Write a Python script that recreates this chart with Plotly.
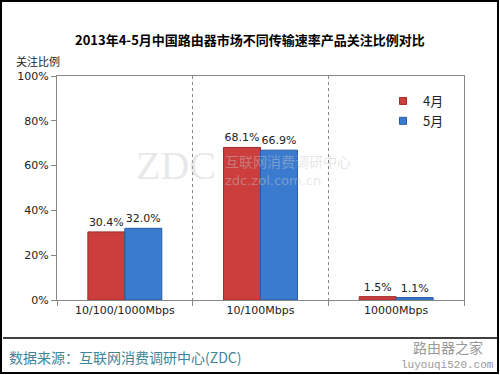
import plotly.graph_objects as go

categories = ["10/100/1000Mbps", "10/100Mbps", "10000Mbps"]
april = [30.4, 68.1, 1.5]
may = [32.0, 66.9, 1.1]
series_names = ["4月", "5月"]
y_ticks = [0, 20, 40, 60, 80, 100]
y_tick_labels = [f"{v}%" for v in y_ticks]

FONT = "DejaVu Sans, Noto Sans CJK SC"
CJK = "Noto Sans CJK SC"

L, R, T, B = 57, 36, 76, 75
W, H = 500, 375
PW, PH = W - L - R, H - T - B

RED, BLUE = "#cc3d3d", "#3b7bcf"

def px(x):
    return (x - L) / PW

def py(y):
    return (H - B - y) / PH

fig = go.Figure()
fig.add_bar(x=categories, y=april, name=series_names[0], showlegend=False,
            marker=dict(color=RED, line=dict(color="#9e2a2a", width=1)),
            text=[f"{v:.1f}%" for v in april], textposition="outside",
            textfont=dict(size=11, color="#222"), cliponaxis=False)
fig.add_bar(x=categories, y=may, name=series_names[1], showlegend=False,
            marker=dict(color=BLUE, line=dict(color="#2a5a9e", width=1)),
            text=[f"{v:.1f}%" for v in may], textposition="outside",
            textfont=dict(size=11, color="#222"), cliponaxis=False)
# legend entries with small square keys
for name, col, edge in [(series_names[0], RED, "#9e2a2a"), (series_names[1], BLUE, "#2a5a9e")]:
    fig.add_scatter(x=[None], y=[None], mode="markers", name=name,
                    marker=dict(symbol="square", size=7, color=col, line=dict(color=edge, width=1)))

ann = []
ann.append(dict(text="<b>2013年4-5月中国路由器市场不同传输速率产品关注比例对比</b>",
                x=px(250), y=py(40), xref="paper", yref="paper", showarrow=False,
                xanchor="center", yanchor="middle", font=dict(size=13, color="#000", family=CJK)))
ann.append(dict(text="关注比例", x=px(14), y=py(61), xref="paper", yref="paper", showarrow=False,
                xanchor="left", yanchor="middle", font=dict(size=11, color="#222", family=CJK)))
ann.append(dict(text="数据来源：互联网消费调研中心(ZDC)", x=px(7), y=py(357), xref="paper", yref="paper",
                showarrow=False, xanchor="left", yanchor="middle",
                font=dict(size=14, color="#3e8597", family=CJK)))
ann.append(dict(text="路由器之家", x=px(448), y=py(347), xref="paper", yref="paper", showarrow=False,
                xanchor="center", yanchor="middle", font=dict(size=14, color="#999", family=CJK)))
ann.append(dict(text="luyouqi520.com", x=px(447), y=py(365), xref="paper", yref="paper", showarrow=False,
                xanchor="center", yanchor="middle", font=dict(size=11, color="#999", family="Liberation Mono")))
ann.append(dict(text="ZDC", x=px(176), y=py(165), xref="paper", yref="paper", showarrow=False,
                xanchor="center", yanchor="middle",
                font=dict(size=40, color="rgba(190,190,190,0.35)", family="Liberation Serif")))
ann.append(dict(text="互联网消费调研中心", x=px(223), y=py(161), xref="paper", yref="paper", showarrow=False,
                xanchor="left", yanchor="middle", font=dict(size=14, color="rgba(200,200,200,0.45)", family=CJK)))
ann.append(dict(text="zdc.zol.com.cn", x=px(223), y=py(180), xref="paper", yref="paper", showarrow=False,
                xanchor="left", yanchor="middle", font=dict(size=13, color="rgba(200,200,200,0.45)", family="DejaVu Sans")))

shapes = [
    dict(type="rect", xref="paper", yref="paper", x0=px(1), x1=px(498), y0=py(373), y1=py(1),
         line=dict(color="#000", width=2)),
    dict(type="line", xref="paper", yref="paper", x0=px(3), x1=px(497), y0=py(338), y1=py(338),
         line=dict(color="#000", width=1.5)),
]

fig.update_layout(
    width=W, height=H, margin=dict(l=L, r=R, t=T, b=B),
    paper_bgcolor="white", plot_bgcolor="white",
    font=dict(family=FONT, size=11, color="#222"),
    barmode="group", bargap=0.455, bargroupgap=0,
    showlegend=True,
    legend=dict(x=px(383), y=py(86), xanchor="left", yanchor="top",
                font=dict(size=13, family=CJK, color="#222"), bgcolor="rgba(0,0,0,0)",
                itemwidth=30, tracegroupgap=0),
    annotations=ann, shapes=shapes,
    xaxis=dict(type="category", tickson="boundaries", ticks="outside", ticklen=5, tickcolor="#888",
               showline=True, linecolor="#888", linewidth=1, mirror=True,
               showgrid=True, gridcolor="#888", griddash="dot", gridwidth=1,
               tickfont=dict(size=11, color="#222")),
    yaxis=dict(range=[0, 100], tickmode="array", tickvals=y_ticks, ticktext=y_tick_labels,
               ticks="outside", ticklen=5,
               tickcolor="#888", showline=True, linecolor="#888", linewidth=1, mirror=True,
               showgrid=False, zeroline=False, tickfont=dict(size=11, color="#222")),
)

fig.write_html("out.html", config={"displayModeBar": False},
               post_script="document.body.style.margin='0';document.body.style.padding='0';")
